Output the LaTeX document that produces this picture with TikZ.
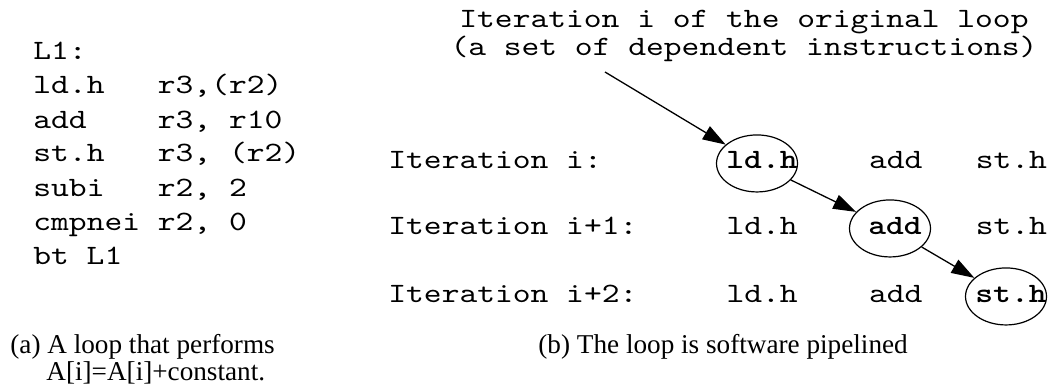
\documentclass[tikz,border=0pt]{standalone}
\usepackage{fontspec}
\setmainfont{Liberation Serif}
\newfontfamily\codefont{lmmono10-regular.otf}[FakeStretch=1.21, BoldFont=lmmonolt10-bold.otf]
\usetikzlibrary{shapes.geometric, arrows.meta}

% bold instruction, nudged right inside its ellipse
\newcommand{\picked}[1]{\makebox[0pt]{\hspace{5pt}\bfseries #1}}

\tikzset{
    code/.style={font=\codefont\fontsize{14pt}{15pt}\selectfont, inner sep=0pt, anchor=base west},
    note/.style={font=\codefont\fontsize{14pt}{15pt}\selectfont, inner sep=0pt, anchor=base},
    pick/.style={ellipse, draw, line width=0.6pt, minimum width=40.5pt, minimum height=28.5pt,
        inner sep=0pt, text depth=3pt, anchor=base, font=\codefont\fontsize{14pt}{15pt}\selectfont},
    dep/.style={-{Triangle[length=11.5pt,width=7.5pt]}, line width=0.65pt},
    capt/.style={font=\fontsize{13.6pt}{13.6pt}\selectfont, inner sep=0pt, anchor=base west},
}

\begin{document}
\begin{tikzpicture}[x=0.5pt, y=-0.5pt]
    \useasboundingbox (0,0) rectangle (1059,385);

    % the loop body
    \node[code] (l0) at (33,60) {L1:};
    \node[code] (l1) at (33,94) {ld.h~~~r3,(r2)};
    \node[code] (l2) at (33,128) {add~~~~r3, r10};
    \node[code] (l3) at (33,162) {st.h~~~r3, (r2)};
    \node[code] (l4) at (33,196) {subi~~~r2, 2};
    \node[code] (l5) at (33,230) {cmpnei r2, 0};
    \node[code] (l6) at (33,264) {bt L1};

    \node[capt] (capa) at (10,353) {(a) A loop that performs};
    \node[capt] (capa2) at (46,380) {A[i]=A[i]+constant.};

    % what the arrow points out
    \node[note] (top1) at (744,28) {Iteration i of the original loop};
    \node[note] (top2) at (744,56) {(a set of dependent instructions)};
    \coordinate (tail) at (605,72);

    % iteration i
    \node[code] (it0) at (388,169) {Iteration i:};
    \node[pick] (ld) at (757,169) {\picked{ld.h}};
    \node[code] (add0) at (868.6,169) {add};
    \node[code] (st0) at (975.4,169) {st.h};

    % iteration i+1
    \node[code] (it1) at (388,234) {Iteration i+1:};
    \node[code] (ld1) at (726.2,234) {ld.h};
    \node[pick] (add) at (890,234) {\picked{add}};
    \node[code] (st1) at (975.4,234) {st.h};

    % iteration i+2
    \node[code] (it2) at (388,302) {Iteration i+2:};
    \node[code] (ld2) at (726.2,302) {ld.h};
    \node[code] (add2) at (868.6,302) {add};
    \node[pick] (st) at (1006,302) {\picked{st.h}};

    \node[capt] (capb) at (538,353) {(b) The loop is software pipelined};

    \draw[dep] (tail) -- (ld);
    \draw[dep] (ld) -- (add);
    \draw[dep] (add) -- (st);
\end{tikzpicture}
\end{document}
